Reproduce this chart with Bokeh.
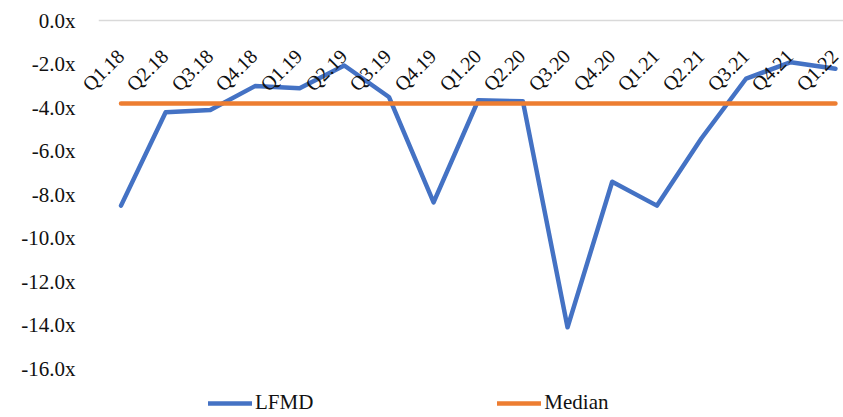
from bokeh.embed import file_html
from bokeh.models import (ColumnDataSource, FixedTicker, HTMLLabelSet, Legend,
                          LegendItem, PrintfTickFormatter, Range1d)
from bokeh.plotting import figure
from bokeh.resources import INLINE

# Quarterly multiples for LFMD and the peer median
quarters = ["Q1.18", "Q2.18", "Q3.18", "Q4.18", "Q1.19", "Q2.19", "Q3.19",
            "Q4.19", "Q1.20", "Q2.20", "Q3.20", "Q4.20", "Q1.21", "Q2.21",
            "Q3.21", "Q4.21", "Q1.22"]
lfmd = [-8.5, -4.2, -4.1, -3.0, -3.1, -2.05, -3.5, -8.35, -3.65, -3.7,
        -14.1, -7.4, -8.5, -5.4, -2.65, -1.9, -2.2]
median = [-3.8, -3.8, -3.8, -3.8, -3.8, -3.8, -3.8, -3.8, -3.8, -3.8,
          -3.8, -3.8, -3.8, -3.8, -3.8, -3.8, -3.8]
y_ticks = [0, -2, -4, -6, -8, -10, -12, -14, -16]

FONT = "Liberation Serif"
TEXT = "#111111"
BLUE = "#4472C4"
ORANGE = "#ED7D31"

idx = list(range(len(quarters)))
src = ColumnDataSource(dict(x=idx, q=quarters, lfmd=lfmd, median=median,
                            y0=[0] * len(quarters)))

p = figure(width=843, height=417, output_backend="svg", toolbar_location=None,
           x_range=Range1d(-0.504, 16.18), y_range=Range1d(-18.25, 0.48),
           min_border_left=98, min_border_right=0, min_border_top=10,
           min_border_bottom=0)
p.outline_line_color = None
p.background_fill_color = "white"
p.border_fill_color = "white"

# value axis on the left, "x" multiple labels
p.yaxis.ticker = FixedTicker(ticks=y_ticks)
p.yaxis.formatter = PrintfTickFormatter(format="%.1fx")
p.yaxis.axis_line_color = None
p.yaxis.major_tick_line_color = None
p.yaxis.major_tick_out = 0
p.yaxis.major_tick_in = 0
p.yaxis.minor_tick_line_color = None
p.yaxis.minor_tick_out = 0
p.yaxis.major_label_standoff = 23
p.yaxis.major_label_text_font = FONT
p.yaxis.major_label_text_font_size = "21px"
p.yaxis.major_label_text_color = TEXT

# category axis sits at zero; the built-in x axis is hidden
p.xaxis.visible = False
p.xgrid.visible = False
p.ygrid.ticker = FixedTicker(ticks=[0])
p.ygrid.grid_line_color = "#D9D9D9"
p.ygrid.grid_line_width = 1.5

# rotated quarter labels just under the zero line
labels = HTMLLabelSet(x="x", y="y0", text="q", source=src, angle=45,
                      angle_units="deg", text_align="right",
                      text_baseline="middle", x_offset=0, y_offset=-33,
                      text_font=FONT, text_font_size="20px",
                      text_color=TEXT)
p.add_layout(labels)

r_lfmd = p.line("x", "lfmd", source=src, line_color=BLUE, line_width=4.5,
                line_join="round", line_cap="round")
r_med = p.line("x", "median", source=src, line_color=ORANGE, line_width=4.5,
               line_cap="round")

legend = Legend(items=[LegendItem(label="LFMD", renderers=[r_lfmd]),
                       LegendItem(label="Median", renderers=[r_med])],
                orientation="horizontal", location=(110, 2),
                padding=0, margin=0, spacing=184, glyph_width=44,
                glyph_height=20, label_height=20, label_standoff=3,
                label_text_font=FONT, label_text_font_size="21px",
                label_text_color=TEXT, label_text_baseline="middle",
                border_line_color=None, background_fill_alpha=0)
p.add_layout(legend, "center")

open("out.html", "w").write(file_html(p, INLINE))
